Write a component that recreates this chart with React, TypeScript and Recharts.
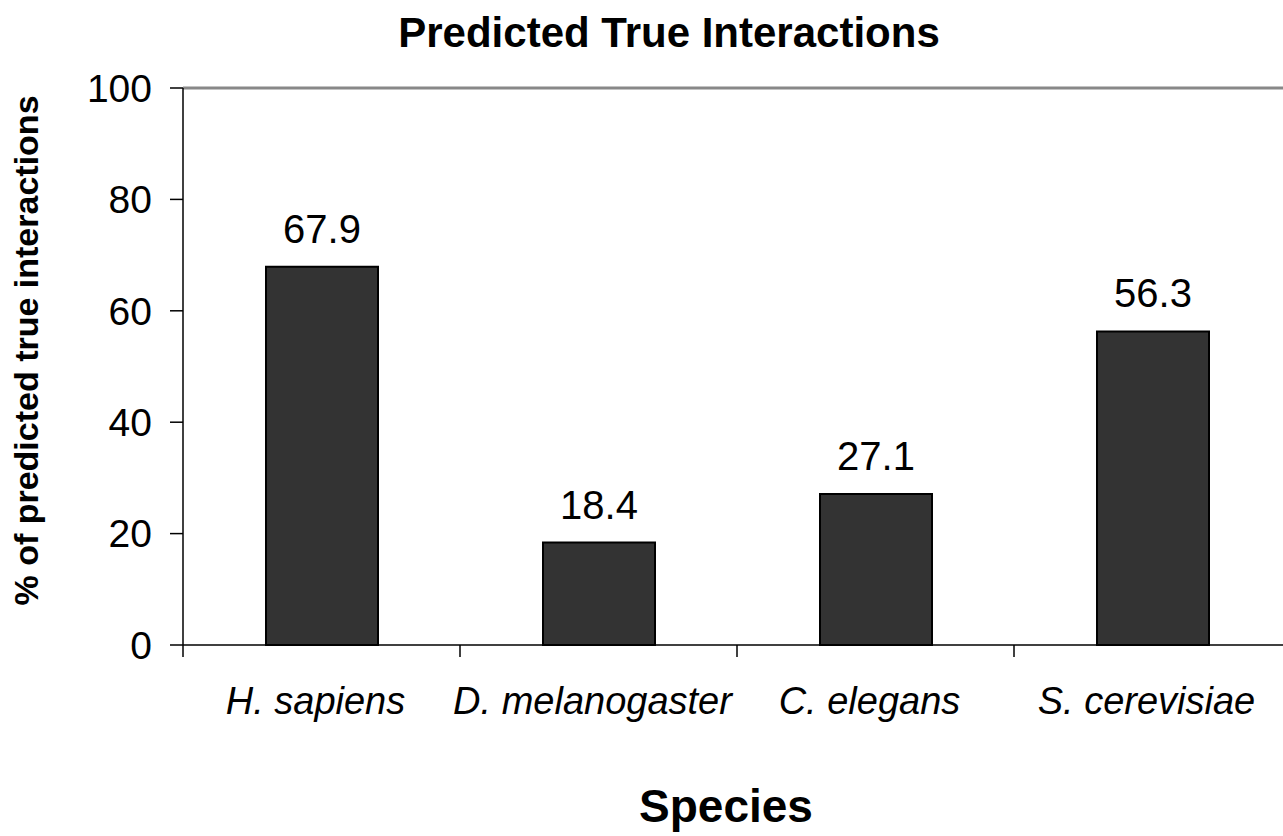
import { BarChart, Bar, XAxis, YAxis, ReferenceLine, LabelList, Label } from 'recharts'

const species = ['H. sapiens', 'D. melanogaster', 'C. elegans', 'S. cerevisiae']
const truePct = [67.9, 18.4, 27.1, 56.3]
const yTicks = [0, 20, 40, 60, 80, 100]

const data = species.map((name, i) => ({ name, value: truePct[i] }))

const FONT = '"Liberation Sans", Arial, Helvetica, sans-serif'

function SpeciesTick(props: any) {
  const { x, y, payload } = props
  const half = payload && payload.offset ? payload.offset : 138.5
  return (
    <g>
      <line x1={x - half} x2={x - half} y1={y} y2={y + 12} stroke="#000" strokeWidth={1.5} />
      <text
        x={x - 6}
        y={y + 69}
        textAnchor="middle"
        fontSize={38}
        fontStyle="italic"
        fontFamily={FONT}
        fill="#000"
      >
        {payload.value}
      </text>
    </g>
  )
}

export default function App() {
  return (
    <div
      style={{
        position: 'absolute',
        left: 0,
        top: 0,
        width: 1283,
        height: 836,
        overflow: 'hidden',
        background: '#fff',
        fontFamily: FONT,
      }}
    >
      <div
        style={{
          position: 'absolute',
          left: 0,
          width: 1338,
          top: 10,
          textAlign: 'center',
          fontSize: 42,
          fontWeight: 'bold',
          lineHeight: '46px',
          color: '#000',
        }}
      >
        Predicted True Interactions
      </div>
      <BarChart
        width={1300}
        height={836}
        data={data}
        margin={{ top: 88, right: 9, left: 0, bottom: 0 }}
        barCategoryGap={0}
      >
        <ReferenceLine y={100} stroke="#888" strokeWidth={3} />
        <XAxis
          dataKey="name"
          height={191}
          axisLine={{ stroke: '#000', strokeWidth: 1.5 }}
          tickLine={false}
          tickSize={0}
          tickMargin={0}
          interval={0}
          tick={<SpeciesTick />}
        >
          <Label
            value="Species"
            position="insideBottom"
            offset={14}
            dx={-11}
            style={{ fontSize: 46, fontWeight: 'bold', fontFamily: FONT, fill: '#000' }}
          />
        </XAxis>
        <YAxis
          width={183}
          domain={[0, 100]}
          ticks={yTicks}
          interval={0}
          axisLine={{ stroke: '#000', strokeWidth: 1.5 }}
          tickLine={{ stroke: '#000', strokeWidth: 1.5 }}
          tickSize={13}
          tickMargin={18}
          tick={{ fontSize: 39, fill: '#000', fontFamily: FONT }}
        >
          <Label
            value="% of predicted true interactions"
            angle={-90}
            position="insideLeft"
            offset={0}
            dx={26}
            dy={-16}
            style={{ fontSize: 34, fontWeight: 'bold', fontFamily: FONT, fill: '#000', textAnchor: 'middle' }}
          />
        </YAxis>
        <Bar
          dataKey="value"
          barSize={112}
          fill="#333333"
          stroke="#000"
          strokeWidth={2}
          isAnimationActive={false}
        >
          <LabelList
            dataKey="value"
            position="top"
            offset={24}
            style={{ fontSize: 40, fill: '#000', fontFamily: FONT }}
          />
        </Bar>
      </BarChart>
    </div>
  )
}
